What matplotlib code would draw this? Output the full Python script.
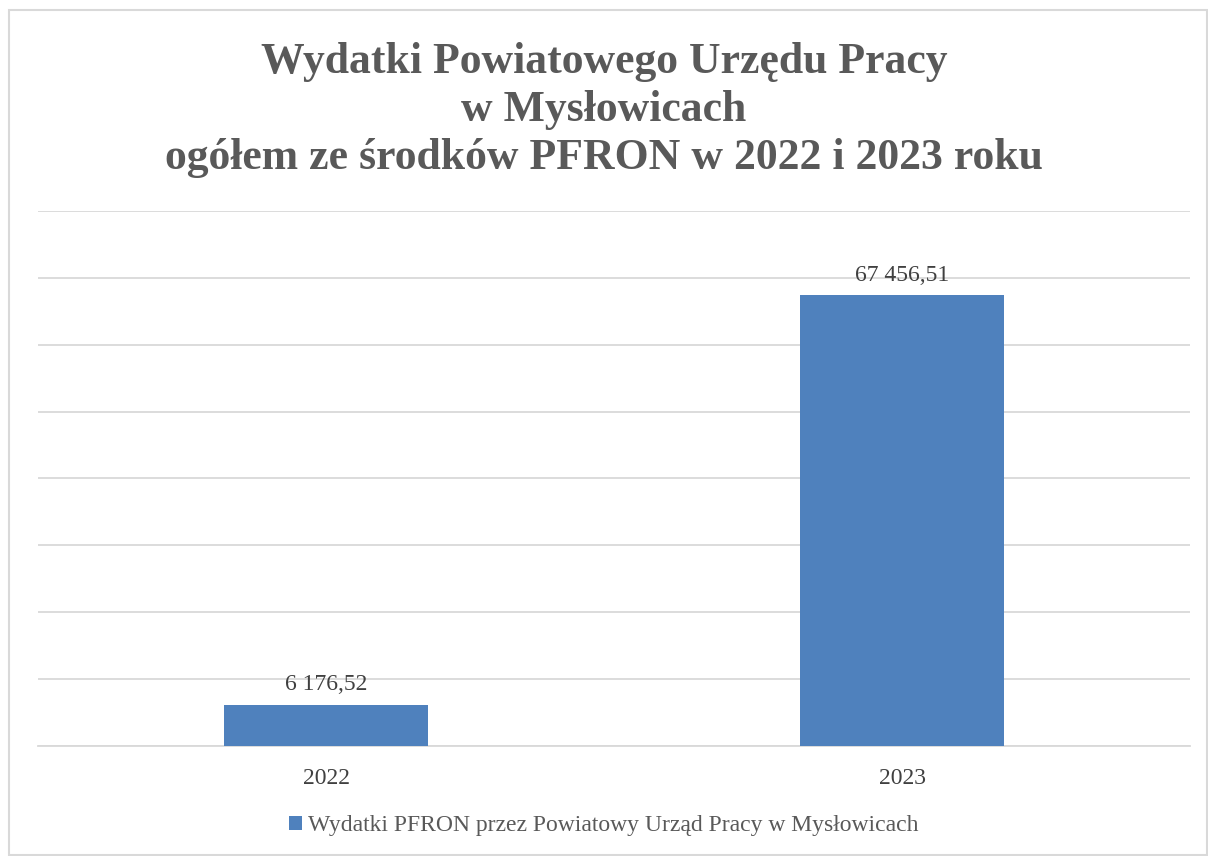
import matplotlib
matplotlib.use("Agg")
import matplotlib.pyplot as plt
from matplotlib.patches import Rectangle

years = ["2022", "2023"]
values = [6176.52, 67456.51]
labels = ["6 176,52", "67 456,51"]
series_name = "Wydatki PFRON przez Powiatowy Urząd Pracy w Mysłowicach"
title = ("Wydatki Powiatowego Urzędu Pracy\nw Mysłowicach\n"
         "ogółem ze środków PFRON w 2022 i 2023 roku")

plt.rcParams["font.family"] = ["Liberation Serif", "DejaVu Serif"]
W, H = 1208, 856
fig = plt.figure(figsize=(W / 100, H / 100), dpi=100)

# chart frame
fig.patches.append(Rectangle((9 / W, 1 / H), (W - 10) / W, (H - 11) / H,
                             transform=fig.transFigure, fill=False,
                             ec="#d9d9d9", lw=1.5))

ax = fig.add_axes([38 / W, (H - 746) / H, 1152 / W, (746 - 211) / H])
x = range(len(years))
ax.bar(x, values, width=0.354, color="#4f81bd", zorder=3, label=series_name)
for xi, v, t in zip(x, values, labels):
    ax.text(xi, v + 1400, t, ha="center", va="bottom", fontsize=17, color="#404040")

ax.set_xlim(-0.5, 1.5)
ax.set_ylim(0, 80000)
ax.set_yticks(range(0, 80001, 10000))
ax.yaxis.grid(True, color="#d9d9d9", lw=1.3)
ax.set_axisbelow(True)
ax.tick_params(axis="y", length=0, labelleft=False)
ax.tick_params(axis="x", length=0, labelsize=17, labelcolor="#404040", pad=16)
ax.set_xticks(list(x))
ax.set_xticklabels(years)
for s in ["top", "right", "left"]:
    ax.spines[s].set_visible(False)
ax.spines["bottom"].set_color("#d9d9d9")
ax.spines["bottom"].set_linewidth(1.3)

fig.text(0.5, (H - 110) / H, title, ha="center", va="center", fontsize=31.5,
         fontweight="bold", color="#595959", linespacing=1.27)

fig.legend(loc="center", bbox_to_anchor=(0.5, (H - 826) / H), frameon=False,
           fontsize=17, labelcolor="#595959", handlelength=0.55, handleheight=0.55,
           handletextpad=0.25)

fig.savefig("out.png", dpi=100)
